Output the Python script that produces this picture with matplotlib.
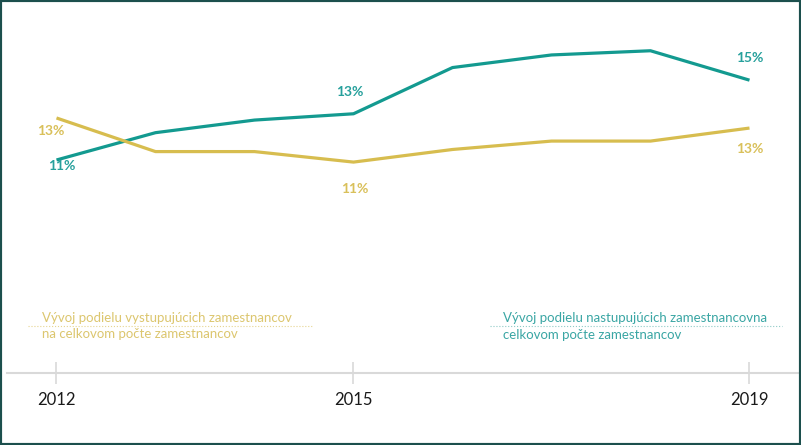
import matplotlib.pyplot as plt
from matplotlib.patches import Rectangle
from matplotlib.lines import Line2D

plt.rcParams['font.family'] = ['Lato', 'DejaVu Sans']

years = [2012, 2013, 2014, 2015, 2016, 2017, 2018, 2019]
nastupujuci = [11.0, 12.3, 12.9, 13.2, 15.4, 16.0, 16.2, 14.8]
vystupujuci = [13.0, 11.4, 11.4, 10.9, 11.5, 11.9, 11.9, 12.52]
tick_years = [2012, 2015, 2019]

teal = "#139a90"
gold = "#d7bd4f"
teal_txt = "#26a09c"
gold_txt = "#d9c05a"

fig = plt.figure(figsize=(8.01, 4.45), dpi=100)
W, H = 801, 445
ax = fig.add_axes([7 / W, (H - 373) / H, 791 / W, 363 / H])

ax.plot(years, nastupujuci, color=teal, lw=2.3, solid_capstyle='butt')
ax.plot(years, vystupujuci, color=gold, lw=2.3, solid_capstyle='butt')

# data labels at first, 2015 and last point
teal_off = {2012: (5, -6), 2015: (-4, 22), 2019: (0, 22)}
gold_off = {2012: (-6, -13), 2015: (1, -27), 2019: (0, -21)}
for y, off in teal_off.items():
    v = nastupujuci[years.index(y)]
    ax.annotate(f"{v:.0f}%", (y, v), xytext=off, textcoords='offset pixels',
                ha='center', va='center', color=teal_txt, fontsize=10, fontweight='bold')
for y, off in gold_off.items():
    v = vystupujuci[years.index(y)]
    ax.annotate(f"{v:.0f}%", (y, v), xytext=off, textcoords='offset pixels',
                ha='center', va='center', color=gold_txt, fontsize=10, fontweight='bold')

ax.set_xlim(2011.5, 2019.49)
ax.set_ylim(0.86, 18.14)
for s in ['top', 'right', 'left']:
    ax.spines[s].set_visible(False)
ax.spines['bottom'].set_color('#d9d9d9')
ax.spines['bottom'].set_linewidth(1.5)
ax.set_yticks([])
ax.set_xticks(tick_years)
ax.set_xticklabels([str(t) for t in tick_years])
ax.tick_params(axis='x', direction='inout', length=16, width=1.2, color='#d9d9d9',
               labelsize=12, labelcolor='#1a1a1a', pad=6)

# series descriptions
fig.text(42 / W, 1 - 318 / H, "Vývoj podielu vystupujúcich zamestnancov",
         color="#dcc66e", fontsize=9.5, va='center', ha='left')
fig.text(42 / W, 1 - 334 / H, "na celkovom počte zamestnancov",
         color="#dcc66e", fontsize=9.5, va='center', ha='left')
fig.add_artist(Line2D([28 / W, 313 / W], [1 - 326 / H, 1 - 326 / H], transform=fig.transFigure,
                      color="#e6d591", lw=0.8, ls=':'))

fig.text(503 / W, 1 - 318 / H, "Vývoj podielu nastupujúcich zamestnancovna",
         color="#3aa6a4", fontsize=9.5, va='center', ha='left')
fig.text(503 / W, 1 - 335 / H, "celkovom počte zamestnancov",
         color="#3aa6a4", fontsize=9.5, va='center', ha='left')
fig.add_artist(Line2D([490 / W, 782 / W], [1 - 326 / H, 1 - 326 / H], transform=fig.transFigure,
                      color="#8fcac6", lw=0.8, ls=':'))

fig.add_artist(Rectangle((0, 0), 1, 1, transform=fig.transFigure, fill=False,
                         ec="#1c4f4d", lw=3))

fig.savefig("out.png", dpi=100)
